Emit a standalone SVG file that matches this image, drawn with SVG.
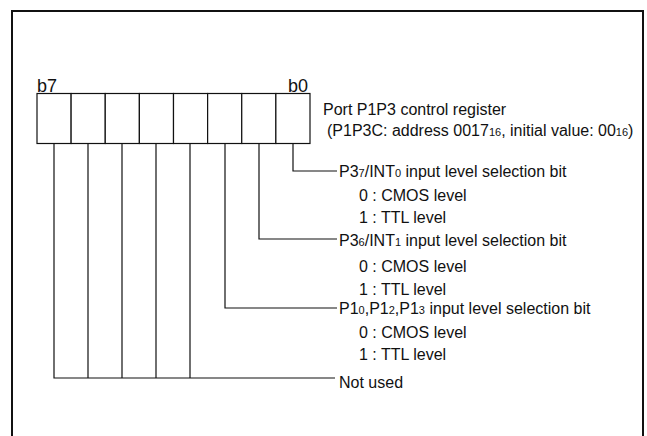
<svg xmlns="http://www.w3.org/2000/svg" width="647" height="436" viewBox="0 0 647 436">
<style>
text{font-family:"Liberation Sans",Arial,sans-serif;font-size:16px;fill:#111}
.b{font-size:18px}
.s{font-size:11px}
.ln{fill:none;stroke:#111;stroke-width:1.2}
.cell{fill:#fff;stroke:#111;stroke-width:1.2}
</style>
<rect width="647" height="436" fill="#fff"/>
<path d="M12,437 V11 H643 V437" fill="none" stroke="#111" stroke-width="2"/>
<g id="register">
<rect class="cell" x="37" y="93.5" width="34.125" height="50"/>
<rect class="cell" x="71.125" y="93.5" width="34.125" height="50"/>
<rect class="cell" x="105.25" y="93.5" width="34.125" height="50"/>
<rect class="cell" x="139.375" y="93.5" width="34.125" height="50"/>
<rect class="cell" x="173.5" y="93.5" width="34.125" height="50"/>
<rect class="cell" x="207.625" y="93.5" width="34.125" height="50"/>
<rect class="cell" x="241.75" y="93.5" width="34.125" height="50"/>
<rect class="cell" x="275.875" y="93.5" width="34.125" height="50"/>
<text class="b" x="37" y="92">b7</text>
<text class="b" x="288" y="92">b0</text>
<text x="323" y="114.5">Port P1P3 control register</text>
<text x="327" y="135.5">(P1P3C: address 0017<tspan class="s">16</tspan>, initial value: 00<tspan class="s">16</tspan>)</text>
</g>
<g id="connectors">
<path class="ln" d="M293,143.5 V171 H337"/>
<path class="ln" d="M259,143.5 V239 H337"/>
<path class="ln" d="M225,143.5 V308 H337"/>
<path class="ln" d="M54,143.5 V378 H335 M88,143.5 V378 M122,143.5 V378 M156,143.5 V378 M190,143.5 V378"/>
</g>
<g id="bit0">
<text x="339" y="176.5">P3<tspan class="s">7</tspan>/INT<tspan class="s">0</tspan> input level selection bit</text>
<text x="359" y="200.5">0 : CMOS level</text>
<text x="359" y="222.5">1 : TTL level</text>
</g>
<g id="bit1">
<text x="339" y="245.5">P3<tspan class="s">6</tspan>/INT<tspan class="s">1</tspan> input level selection bit</text>
<text x="359" y="271.5">0 : CMOS level</text>
<text x="359" y="294.5">1 : TTL level</text>
</g>
<g id="bit2">
<text x="339" y="313.5">P1<tspan class="s">0</tspan>,P1<tspan class="s">2</tspan>,P1<tspan class="s">3</tspan> input level selection bit</text>
<text x="359" y="337.5">0 : CMOS level</text>
<text x="359" y="359.5">1 : TTL level</text>
</g>
<g id="bits3to7">
<text x="339" y="387.5">Not used</text>
</g>
</svg>
